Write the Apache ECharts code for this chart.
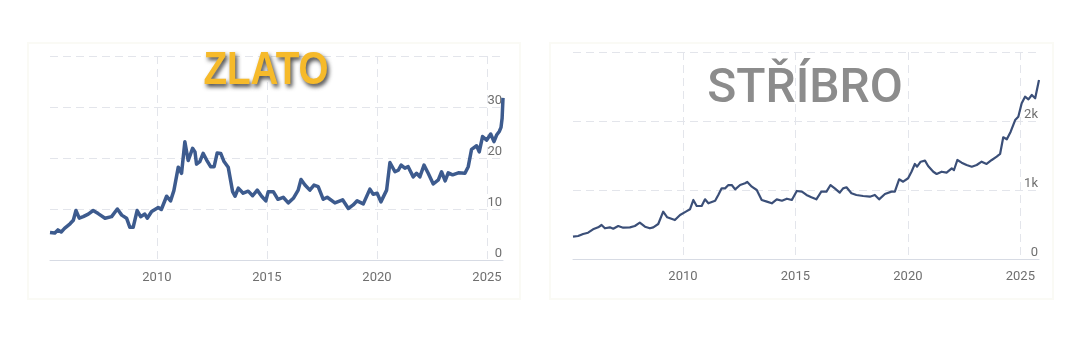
<!DOCTYPE html>
<html>
<head>
<meta charset="utf-8">
<script src="https://cdn.jsdelivr.net/npm/echarts@6/dist/echarts.min.js"></script>
<style>
  html, body { margin: 0; padding: 0; background: #ffffff; }
  #chart { width: 1068px; height: 341px; }
</style>
</head>
<body>
<div id="chart"></div>
<script>
// Year ticks shared by both panels
const yearTicks = [2010, 2015, 2020, 2025];

// ZLATO: time (decimal years) and price
const zlatoYears = [
  2005.14, 2005.36, 2005.5, 2005.65, 2005.8, 2006.05, 2006.2, 2006.32, 2006.47, 2006.65,
  2006.88, 2007.1, 2007.33, 2007.64, 2007.94, 2008.2, 2008.4, 2008.62, 2008.77, 2008.92,
  2009.1, 2009.26, 2009.45, 2009.56, 2009.76, 2010.06, 2010.2, 2010.44, 2010.62, 2010.77,
  2010.97, 2011.12, 2011.27, 2011.42, 2011.62, 2011.73, 2011.8, 2011.95, 2012.1, 2012.26,
  2012.44, 2012.6, 2012.74, 2012.9, 2013.05, 2013.24, 2013.44, 2013.55, 2013.7, 2013.92,
  2014.15, 2014.35, 2014.56, 2014.76, 2014.95, 2015.06, 2015.29, 2015.5, 2015.74, 2015.97,
  2016.2, 2016.42, 2016.55, 2016.73, 2016.95, 2017.14, 2017.33, 2017.56, 2017.74, 2018.09,
  2018.44, 2018.7, 2018.92, 2019.1, 2019.38, 2019.68, 2019.83, 2020.01, 2020.18, 2020.44,
  2020.59, 2020.82, 2020.97, 2021.1, 2021.27, 2021.42, 2021.65, 2021.8, 2021.95, 2022.14,
  2022.33, 2022.56, 2022.79, 2022.94, 2023.1, 2023.24, 2023.44, 2023.7, 2024.0, 2024.15,
  2024.3, 2024.53, 2024.65, 2024.8, 2024.99, 2025.17, 2025.32, 2025.44, 2025.56, 2025.64,
  2025.69, 2025.73
];
const zlatoValues = [
  5.4, 5.3, 5.9, 5.5, 6.2, 7.1, 7.8, 9.7, 8.2, 8.5,
  9.0, 9.7, 9.1, 8.2, 8.5, 10.0, 8.8, 8.2, 6.4, 6.4,
  9.7, 8.5, 9.0, 8.2, 9.5, 10.3, 9.9, 12.5, 11.6, 13.6,
  18.2, 17.0, 23.2, 19.5, 21.9, 21.2, 18.8, 19.3, 20.9, 19.6,
  18.3, 18.3, 21.0, 20.9, 19.3, 18.2, 13.4, 12.5, 14.1, 13.1,
  13.5, 12.6, 13.7, 12.5, 11.6, 13.4, 13.4, 11.9, 12.3, 11.2,
  12.1, 13.7, 15.8, 14.7, 13.7, 14.7, 14.4, 11.9, 12.3, 11.2,
  11.8, 10.1, 10.8, 11.6, 11.0, 13.9, 12.9, 13.1, 11.4, 13.7,
  19.1, 17.3, 17.6, 18.6, 18.0, 18.3, 16.3, 17.0, 16.3, 18.6,
  17.0, 14.9, 15.7, 17.3, 15.5, 17.1, 16.7, 17.1, 17.0, 18.3,
  21.7, 22.4, 21.2, 24.2, 23.5, 24.7, 23.2, 24.5, 25.2, 26.0,
  27.8, 31.8
];

// STŘÍBRO: time (decimal years) and price
const striberYears = [
  2005.11, 2005.34, 2005.56, 2005.78, 2006.0, 2006.23, 2006.38, 2006.53, 2006.75, 2006.9,
  2007.12, 2007.34, 2007.64, 2007.86, 2008.08, 2008.31, 2008.53, 2008.68, 2008.9, 2009.12,
  2009.3, 2009.64, 2009.87, 2010.13, 2010.31, 2010.46, 2010.61, 2010.83, 2010.98, 2011.13,
  2011.43, 2011.57, 2011.72, 2011.87, 2012.02, 2012.17, 2012.32, 2012.54, 2012.76, 2012.86,
  2013.06, 2013.28, 2013.5, 2013.73, 2013.95, 2014.17, 2014.4, 2014.62, 2014.84, 2015.06,
  2015.29, 2015.49, 2015.71, 2015.93, 2016.15, 2016.38, 2016.56, 2016.75, 2016.97, 2017.12,
  2017.27, 2017.49, 2017.71, 2018.01, 2018.31, 2018.53, 2018.72, 2018.98, 2019.27, 2019.42,
  2019.61, 2019.79, 2020.01, 2020.16, 2020.31, 2020.41, 2020.57, 2020.76, 2020.9, 2021.13,
  2021.28, 2021.5, 2021.72, 2021.95, 2022.05, 2022.2, 2022.39, 2022.61, 2022.84, 2023.06,
  2023.28, 2023.5, 2023.73, 2023.95, 2024.1, 2024.24, 2024.4, 2024.57, 2024.77, 2024.91,
  2025.06, 2025.21, 2025.36, 2025.51, 2025.66, 2025.83
];
const striberValues = [
  323, 333, 362, 381, 430, 459, 493, 445, 459, 439,
  478, 454, 459, 478, 526, 468, 445, 459, 507, 686,
  604, 565, 638, 686, 720, 855, 768, 768, 865, 807,
  845, 928, 1024, 1024, 1072, 1072, 1010, 1072, 1097, 1116,
  1048, 1000, 855, 831, 807, 865, 845, 874, 855, 986,
  976, 928, 894, 865, 976, 976, 1072, 1024, 961, 1024,
  1039, 952, 928, 913, 903, 928, 865, 942, 976, 976,
  1155, 1120, 1170, 1265, 1377, 1338, 1410, 1425, 1348, 1265,
  1232, 1265, 1251, 1314, 1290, 1435, 1396, 1362, 1338, 1362,
  1410, 1377, 1435, 1483, 1522, 1764, 1735, 1845, 2014, 2062,
  2257, 2352, 2314, 2377, 2329, 2594
];

const zlatoData = zlatoYears.map((y, i) => [y, zlatoValues[i]]);
const striberData = striberYears.map((y, i) => [y, striberValues[i]]);

const gridLine = { color: '#e3e5eb', width: 1, type: [8, 5] };
const labelColor = '#6f6f6f';
const fontFamily = 'Roboto, "Noto Sans", sans-serif';

function xAxisFor(gridIndex, min, max) {
  return {
    type: 'value',
    gridIndex: gridIndex,
    min: min,
    max: max,
    axisLine: { show: true, lineStyle: { color: '#d7dbe4', width: 1 } },
    axisTick: { show: false, customValues: yearTicks },
    axisLabel: {
      customValues: yearTicks,
      color: labelColor,
      fontSize: 13,
      fontFamily: fontFamily,
      margin: 11,
      formatter: v => String(v)
    },
    splitLine: { show: true, lineStyle: gridLine }
  };
}

function yAxisFor(gridIndex, max, interval, fmt) {
  return {
    type: 'value',
    gridIndex: gridIndex,
    position: 'right',
    min: 0,
    max: max,
    interval: interval,
    axisLine: { show: false },
    axisTick: { show: false },
    axisLabel: {
      inside: true,
      showMaxLabel: false,
      margin: 1,
      verticalAlign: 'bottom',
      color: labelColor,
      fontSize: 13,
      fontFamily: fontFamily,
      formatter: fmt
    },
    splitLine: { show: true, lineStyle: gridLine }
  };
}

const chart = echarts.init(document.getElementById('chart'), null, { renderer: 'canvas' });

chart.setOption({
  backgroundColor: '#ffffff',
  animation: false,
  grid: [
    { left: 50, right: 565, top: 56, bottom: 81 },
    { left: 573, right: 29, top: 52, bottom: 82 }
  ],
  xAxis: [
    xAxisFor(0, 2005.14, 2025.73),
    xAxisFor(1, 2005.11, 2025.83)
  ],
  yAxis: [
    yAxisFor(0, 40, 10, v => String(v)),
    yAxisFor(1, 3000, 1000, v => (v === 0 ? '0' : (v / 1000) + 'k'))
  ],
  graphic: [
    // card outlines
    {
      type: 'rect', z: -10, silent: true,
      shape: { x: 28, y: 43, width: 492, height: 256 },
      style: { fill: '#ffffff', stroke: '#fafaf5', lineWidth: 2 }
    },
    {
      type: 'rect', z: -10, silent: true,
      shape: { x: 550, y: 43, width: 503, height: 256 },
      style: { fill: '#ffffff', stroke: '#fafaf5', lineWidth: 2 }
    },
    // panel titles
    {
      type: 'text', z: 100, silent: true,
      x: 266, y: 71, scaleX: 0.84,
      style: {
        text: 'ZLATO',
        x: 0, y: 0,
        align: 'center',
        verticalAlign: 'middle',
        font: 'bold 46px "Liberation Sans", Arial, sans-serif',
        fill: '#f6ba2a',
        textShadowColor: 'rgba(30,30,30,0.8)',
        textShadowBlur: 4,
        textShadowOffsetX: 2,
        textShadowOffsetY: 3
      }
    },
    {
      type: 'text', z: 100, silent: true,
      x: 805, y: 90,
      style: {
        text: 'STŘÍBRO',
        x: 0, y: 0,
        align: 'center',
        verticalAlign: 'middle',
        font: '500 48px Roboto, "Noto Sans", sans-serif',
        fill: '#8c8c8c'
      }
    }
  ],
  series: [
    {
      type: 'line',
      xAxisIndex: 0,
      yAxisIndex: 0,
      data: zlatoData,
      showSymbol: false,
      smooth: false,
      lineStyle: { color: '#3d5b8e', width: 3.5, join: 'round' },
      z: 5
    },
    {
      type: 'line',
      xAxisIndex: 1,
      yAxisIndex: 1,
      data: striberData,
      showSymbol: false,
      smooth: false,
      lineStyle: { color: '#3b4f78', width: 2.2, join: 'round' },
      z: 5
    }
  ]
});
</script>
</body>
</html>
